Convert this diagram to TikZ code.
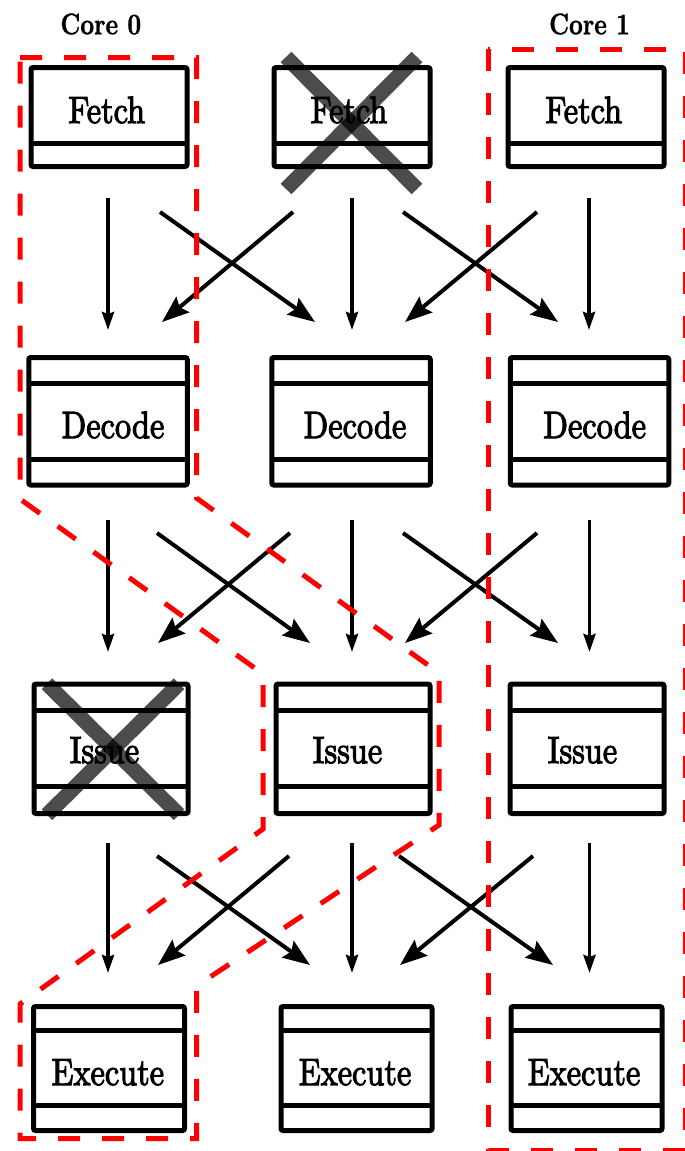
\documentclass[tikz,border=0pt]{standalone}
\usepackage{fontspec}
\usepackage{graphicx}
\newfontfamily\lblfont{lmroman10-regular.otf}[FakeBold=3]
\newfontfamily\corefont{lmroman10-bold.otf}[FakeBold=1]
\usetikzlibrary{arrows.meta,calc}
\newcommand{\boxtext}[1]{\scalebox{0.85}[1]{#1}}
\newcommand{\coretext}[1]{\scalebox{0.8}[1]{#1}}
\begin{document}
\begin{tikzpicture}[x=1pt,y=-1pt,
  box/.style={draw, line width=5pt, rounded corners=2pt, outer sep=0pt, inner sep=0pt},
  fbox/.style={box, minimum width=156pt, minimum height=99pt},
  dbox/.style={box, minimum width=158.5pt, minimum height=127.5pt},
  ibox/.style={box, minimum width=154pt, minimum height=129.5pt},
  ebox/.style={box, minimum width=151pt, minimum height=124pt},
  divline/.style={line width=5pt},
  lbl/.style={anchor=base, inner sep=0pt, font=\lblfont\fontsize{38}{40}\selectfont},
  corelbl/.style={anchor=base, inner sep=0pt, font=\corefont\fontsize{30}{32}\selectfont},
  varr/.style={line width=3.5pt, -{Stealth[length=18pt,width=12pt,inset=2pt]}},
  darr/.style={line width=4pt, -{Stealth[length=27pt,width=20pt,inset=4pt]}},
  core/.style={red, line width=5pt, dash pattern=on 22pt off 22pt},
  xout/.style={line width=15pt, black, opacity=0.7},
]
\clip (0,0) rectangle (685,1151);
\fill[white] (0,0) rectangle (685,1151);

% core labels
\node[corelbl] (c0) at (100.8,34.3) {\coretext{Core 0}};
\node[corelbl] (c1) at (589.5,34.3) {\coretext{Core 1}};

% Fetch row
\node[fbox] (f0) at (109,117) {};
\node[fbox] (f1) at (352,117) {};
\node[fbox] (f2) at (586,117) {};
\foreach \n in {f0,f1,f2}{
  \draw[divline] ([yshift=23.5pt]\n.south west) -- ([yshift=23.5pt]\n.south east);
}
\node[lbl] (tf0) at (106.7,123) {\boxtext{Fetch}};
\node[lbl] (tf1) at (349,123) {\boxtext{Fetch}};
\node[lbl] (tf2) at (583.7,123) {\boxtext{Fetch}};

% Decode row
\node[dbox] (d0) at (108,421.25) {};
\node[dbox] (d1) at (351,421.25) {};
\node[dbox] (d2) at (589.5,421.25) {};
\foreach \n in {d0,d1,d2}{
  \draw[divline] ([yshift=-26pt]\n.north west) -- ([yshift=-26pt]\n.north east);
  \draw[divline] ([yshift=26pt]\n.south west) -- ([yshift=26pt]\n.south east);
}
\node[lbl] (td0) at (113,438) {\boxtext{Decode}};
\node[lbl] (td1) at (355,438) {\boxtext{Decode}};
\node[lbl] (td2) at (594.7,438) {\boxtext{Decode}};

% Issue row
\node[ibox] (i0) at (111,748.75) {};
\node[ibox] (i1) at (353,748.75) {};
\node[ibox] (i2) at (587,748.75) {};
\foreach \n in {i0,i1,i2}{
  \draw[divline] ([yshift=-26pt]\n.north west) -- ([yshift=-26pt]\n.north east);
  \draw[divline] ([yshift=27pt]\n.south west) -- ([yshift=27pt]\n.south east);
}
\node[lbl] (ti0) at (104.5,763) {\boxtext{Issue}};
\node[lbl] (ti1) at (347.5,763) {\boxtext{Issue}};
\node[lbl] (ti2) at (582.5,763) {\boxtext{Issue}};

% Execute row
\node[ebox] (e0) at (109,1068.5) {};
\node[ebox] (e1) at (356.5,1068.5) {};
\node[ebox] (e2) at (586.5,1068.5) {};
\foreach \n in {e0,e1,e2}{
  \draw[divline] ([yshift=-24pt]\n.north west) -- ([yshift=-24pt]\n.north east);
  \draw[divline] ([yshift=25.5pt]\n.south west) -- ([yshift=25.5pt]\n.south east);
}
\node[lbl] (te0) at (107.8,1085) {\boxtext{Execute}};
\node[lbl] (te1) at (355,1085) {\boxtext{Execute}};
\node[lbl] (te2) at (584,1085) {\boxtext{Execute}};

% Fetch -> Decode
\draw[varr] ($(f0.south)+(-1,31.5)$) -- ($(d0.north)+(0,-27.5)$);
\draw[varr] ($(f1.south)+(0,31.5)$) -- ($(d1.north)+(1,-27.5)$);
\draw[varr] ($(f2.south)+(3,31.5)$) -- ($(d2.north)+(-0.5,-27.5)$);
\draw[darr] ($(f0.south)+(51,45.5)$) -- ($(d1.north)+(-36,-35.5)$);
\draw[darr] ($(f1.south)+(-59,45.5)$) -- ($(d0.north)+(54,-35.5)$);
\draw[darr] ($(f1.south)+(51,45.5)$) -- ($(d2.north)+(-31.5,-35.5)$);
\draw[darr] ($(f2.south)+(-49,45.5)$) -- ($(d1.north)+(54,-35.5)$);

% Decode -> Issue
\draw[varr] ($(d0.south)+(0,35)$) -- ($(i0.north)+(-3,-32)$);
\draw[varr] ($(d1.south)+(1,35)$) -- ($(i1.north)+(-1,-32)$);
\draw[varr] ($(d2.south)+(0,35)$) -- ($(i2.north)+(2.5,-32)$);
\draw[darr] ($(d0.south)+(49,48)$) -- ($(i1.north)+(-43,-41)$);
\draw[darr] ($(d1.south)+(-61,48)$) -- ($(i0.north)+(47,-41)$);
\draw[darr] ($(d1.south)+(52,48)$) -- ($(i2.north)+(-29,-41)$);
\draw[darr] ($(d2.south)+(-52.5,48)$) -- ($(i1.north)+(52,-41)$);

% Issue -> Execute
\draw[varr] ($(i0.south)+(-3,29.5)$) -- ($(e0.north)+(-1,-33.5)$);
\draw[varr] ($(i1.south)+(-1,29.5)$) -- ($(e1.north)+(-4.5,-33.5)$);
\draw[varr] ($(i2.south)+(2.5,29.5)$) -- ($(e2.north)+(3,-33.5)$);
\draw[darr] ($(i0.south)+(46,42.5)$) -- ($(e1.north)+(-46.5,-41.5)$);
\draw[darr] ($(i1.south)+(-64,42.5)$) -- ($(e0.north)+(49,-41.5)$);
\draw[darr] ($(i1.south)+(46,42.5)$) -- ($(e2.north)+(-33.5,-41.5)$);
\draw[darr] ($(i2.south)+(-54,42.5)$) -- ($(e1.north)+(43.5,-41.5)$);

% crossed-out stages
\draw[xout] ($(f1.center)+(-66,-60)$) -- ($(f1.center)+(65,72)$);
\draw[xout] ($(f1.center)+(65,-60)$) -- ($(f1.center)+(-66,72)$);
\draw[xout] ($(i0.center)+(-64,-65)$) -- ($(i0.center)+(68,66)$);
\draw[xout] ($(i0.center)+(68,-65)$) -- ($(i0.center)+(-64,66)$);

% core outlines
\draw[core] (20,57.5) -- (196.5,57.5) -- (196.5,498) -- (439,673) -- (439,825)
  -- (196.5,986) -- (196.5,1138.5) -- (20,1138.5) -- (20,1004) -- (263,829)
  -- (263,674) -- (20,499) -- cycle;
\draw[core] (488,49) rectangle (685.5,1150.5);
\end{tikzpicture}
\end{document}
